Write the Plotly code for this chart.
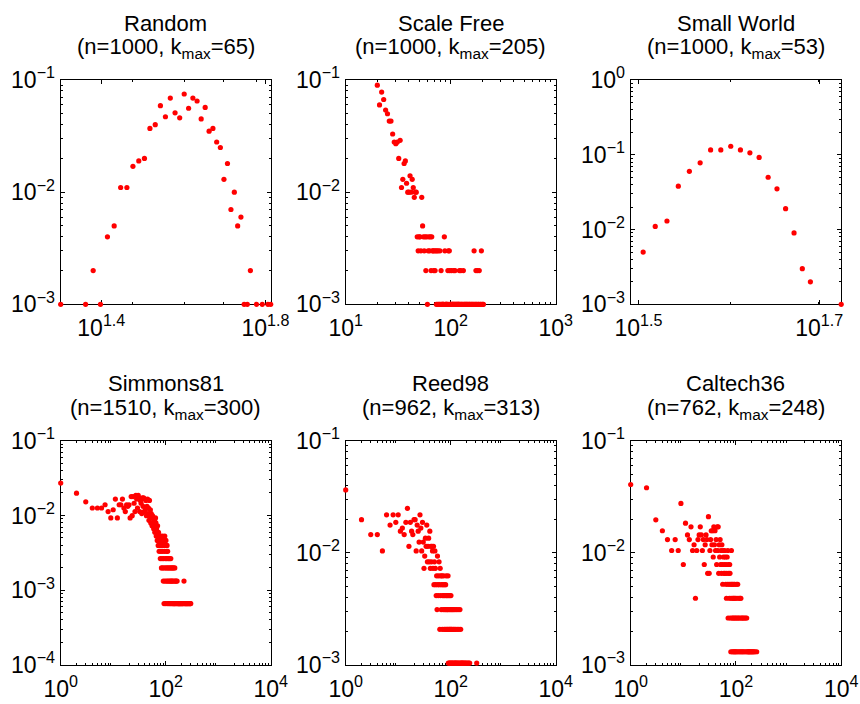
import math
import plotly.graph_objects as go

# ---------------- data ----------------
network_names = ["Random", "Scale Free", "Small World", "Simmons81", "Reed98", "Caltech36"]
network_sizes = [1000, 1000, 1000, 1510, 962, 762]
network_kmax = [65, 205, 53, 300, 313, 248]

random_degree = [20, 23, 24, 25, 26, 27, 28, 29, 30, 31, 32, 33, 34, 35, 36, 37, 38, 39, 40,
                 41, 42, 43, 44, 45, 46, 47, 48, 49, 50, 51, 52, 53, 54, 55, 56, 57, 58, 60,
                 62, 64, 65]
random_count = [1, 1, 2, 1, 4, 5, 11, 11, 17, 19, 20, 37, 40, 59, 47, 69, 51, 46, 75,
                56, 69, 65, 45, 57, 35, 37, 28, 25, 13, 18, 7, 10, 5, 6, 1, 1, 2, 1,
                1, 1, 1]

scalefree_degree = [20, 21, 22, 23, 24, 25, 26, 27, 28, 29, 30, 31, 32, 33, 34, 35, 36, 37, 38, 39,
                    40, 41, 42, 43, 44, 45, 46, 47, 48, 49, 50, 51, 52, 53, 54, 55, 56, 57, 58, 59,
                    60, 61, 62, 63, 64, 65, 66, 67, 68, 69, 70, 71, 72, 73, 74, 75, 76, 77, 78, 79,
                    80, 81, 82, 83, 84, 85, 86, 87, 88, 89, 90, 91, 92, 93, 94, 95, 96, 97, 98, 99,
                    100, 101, 102, 103, 104, 105, 106, 107, 108, 109, 110, 111, 112, 114, 115, 116,
                    118, 119, 120, 121, 122, 124, 125, 126, 128, 130, 132, 133, 135, 137, 139, 141,
                    143, 145, 148, 150, 152, 155, 158, 160, 163, 166, 167, 170, 172, 174, 176, 178,
                    180, 183, 185, 187, 190, 193, 196, 198, 202, 205]
scalefree_count = [90, 60, 78, 67, 54, 50, 43, 43, 33, 28, 27, 28, 20, 29, 11, 13, 18, 19, 12, 10,
                   10, 14, 10, 13, 11, 9, 10, 10, 4, 3, 4, 4, 3, 9, 5, 4, 3, 4, 2, 4,
                   1, 3, 4, 3, 4, 2, 4, 3, 3, 2, 3, 2, 3, 1, 3, 1, 3, 1, 1, 3,
                   1, 2, 1, 1, 1, 1, 1, 4, 3, 1, 1, 1, 1, 1, 2, 3, 1, 3, 2, 1,
                   1, 1, 2, 1, 1, 1, 1, 2, 1, 1, 2, 1, 1, 1, 1, 1,
                   1, 1, 1, 2, 1, 1, 2, 1, 1, 1, 2, 1, 1, 1, 1, 1,
                   1, 1, 1, 1, 1, 1, 1, 1, 1, 1, 3, 1, 1, 2, 1, 1,
                   2, 1, 1, 2, 1, 1, 3, 1, 1, 1]

smallworld_degree = [32, 33, 34, 35, 36, 37, 38, 39, 40, 41, 42, 43, 44, 45, 46, 47, 48, 49, 53]
smallworld_count = [5, 11, 13, 38, 60, 78, 116, 116, 130, 116, 106, 92, 50, 35, 19, 9, 3, 2, 1]

simmons_degree = list(range(1, 111)) + [112, 113, 115, 116, 118, 119, 121, 122, 124, 125, 127, 128,
                                        130, 132, 134, 135, 137, 139, 141, 143, 145, 147, 149, 150,
                                        153, 156, 158, 161, 165, 168, 172, 176, 180, 184, 188, 192,
                                        197, 202, 207, 212, 218, 223, 228, 234, 240, 246, 252, 258,
                                        265, 272, 280, 288, 294, 300]
simmons_count = [41, 30, 23, 19, 19, 19, 21, 17, 14, 18,
                 25, 14, 21, 21, 25, 19, 17, 21, 20, 21,
                 14, 27, 15, 27, 22, 17, 28, 25, 19, 28,
                 26, 17, 24, 22, 16, 26, 20, 26, 17, 25,
                 18, 24, 15, 20, 25, 16, 19, 13, 24, 15,
                 18, 12, 16, 14, 11, 15, 12, 14, 10, 12,
                 13, 9, 11, 14, 12, 8, 10, 9, 7, 11,
                 8, 6, 9, 7, 5, 8, 6, 7, 4, 8,
                 5, 6, 3, 7, 4, 5, 8, 3, 6, 2,
                 4, 7, 1, 5, 3, 8, 2, 6, 4, 1,
                 7, 3, 5, 2, 4, 6, 1, 3, 5, 2,
                 4, 1, 3, 2, 4, 1, 3, 2, 1, 4, 2, 3,
                 1, 2, 3, 1, 2, 1, 3, 1, 2, 1, 3, 1,
                 2, 1, 2, 1, 2, 1, 1, 1, 1, 1, 1, 1,
                 1, 1, 1, 1, 1, 2, 1, 1, 1, 1, 1, 1,
                 1, 1, 1, 1, 1, 1]

reed_degree = list(range(1, 105)) + [106, 107, 108, 110, 112, 113, 115, 117, 119, 120, 122, 124,
                                     126, 128, 130, 133, 135, 138, 140, 143, 146, 150, 152, 155,
                                     158, 162, 167, 172, 178, 185, 192, 200, 210, 220, 230, 313]
reed_count = [35, 19, 14, 14, 10, 21, 17, 21, 18, 21,
              15, 16, 14, 18, 24, 11, 18, 15, 14, 19,
              19, 10, 17, 15, 12, 21, 16, 10, 18, 12,
              7, 9, 13, 11, 17, 8, 11, 13, 8, 15,
              7, 11, 8, 11, 10, 7, 11, 5, 8, 10,
              7, 5, 4, 6, 3, 9, 5, 4, 6, 8,
              5, 2, 7, 4, 6, 3, 5, 6, 2, 4,
              5, 3, 6, 4, 2, 5, 3, 4, 2, 5,
              3, 6, 4, 2, 3, 4, 2, 3, 6, 1,
              4, 2, 3, 1, 2, 4, 1, 3, 2, 1,
              4, 2, 3, 1,
              2, 1, 3, 1, 2, 3, 1, 2, 1, 3, 1, 2,
              1, 3, 1, 2, 1, 3, 1, 2, 1, 3, 1, 2,
              1, 1, 1, 1, 1, 1, 1, 1, 1, 1, 1, 1]

caltech_degree = list(range(1, 99)) + [100, 101, 103, 104, 105, 107, 108, 110, 112, 114, 116, 118,
                                       120, 122, 124, 126, 128, 131, 134, 137, 140, 144, 148, 152,
                                       156, 160, 165, 170, 175, 180, 186, 192, 198, 205, 212, 220,
                                       230, 248]
caltech_count = [31, 29, 15, 12, 10, 8, 10, 8, 21, 6,
                 14, 11, 10, 13, 8, 9, 3, 8, 10, 11,
                 13, 11, 8, 10, 6, 9, 11, 10, 5, 16,
                 5, 8, 10, 12, 9, 12, 7, 13, 9, 12,
                 8, 10, 6, 13, 8, 13, 5, 9, 7, 10,
                 6, 8, 5, 9, 6, 4, 8, 7, 5, 6,
                 8, 5, 7, 4, 6, 3, 5, 7, 4, 8,
                 2, 6, 5, 4, 3, 6, 5, 2, 4, 1,
                 3, 8, 4, 2, 1, 4, 3, 2, 1, 3,
                 4, 2, 1, 3, 4, 1, 2, 3,
                 1, 2, 4, 1, 3, 2, 4, 1, 2, 3, 1, 2,
                 3, 1, 3, 2, 1, 2, 1, 2, 1, 2, 1, 2,
                 1, 2, 1, 1, 1, 1, 1, 1, 1, 1, 1, 1,
                 1, 1]

network_degrees = [random_degree, scalefree_degree, smallworld_degree,
                   simmons_degree, reed_degree, caltech_degree]
network_counts = [random_count, scalefree_count, smallworld_count,
                  simmons_count, reed_count, caltech_count]

# axis limits (degree / probability values) and tick exponents
x_limits = [(20, 65), (10, 1000), (31, 53), (1, 10000), (1, 10000), (1, 10000)]
y_limits = [(1e-3, 1e-1), (1e-3, 1e-1), (1e-3, 1), (1e-4, 1e-1), (1e-3, 1e-1), (1e-3, 1e-1)]
x_tick_exponents = [[1.4, 1.8], [1, 2, 3], [1.5, 1.7], [0, 2, 4], [0, 2, 4], [0, 2, 4]]
y_tick_exponents = [[-3, -2, -1], [-3, -2, -1], [-3, -2, -1, 0], [-4, -3, -2, -1],
                    [-3, -2, -1], [-3, -2, -1]]

# ---------------- layout helpers ----------------
W, H = 860, 704
col_px = [(60.7, 270.7), (345.7, 555.7), (630.7, 841.2)]
row_px = [(80.0, 304.3), (440.7, 665.0)]
FONT = "Liberation Sans, Arial, Helvetica, sans-serif"
EPS = 1e-7  # tiny pad so points lying exactly on the frame are not culled


def fx(px):
    return px / W


def fy(py):
    return 1 - py / H


def power_label(e):
    s = ("%g" % abs(e))
    sign = "\u2212" if e < 0 else ""
    return "10<sup>" + sign + s + "</sup>"


def minor_vals(lo, hi):
    vals = []
    for e in range(int(math.floor(math.log10(lo))) - 1, int(math.ceil(math.log10(hi))) + 1):
        for m in range(2, 10):
            v = m * 10 ** e
            if lo < v < hi:
                vals.append(v)
    return vals


fig = go.Figure()
layout = dict(
    width=W, height=H,
    margin=dict(l=0, r=0, t=0, b=0, autoexpand=False),
    paper_bgcolor="white", plot_bgcolor="white",
    showlegend=False,
    font=dict(family=FONT, color="black", size=22),
    annotations=[],
)

for i in range(6):
    r, c = divmod(i, 3)
    ax = "" if i == 0 else str(i + 1)
    xd = [fx(col_px[c][0]), fx(col_px[c][1])]
    yd = [fy(row_px[r][1]), fy(row_px[r][0])]
    n = network_sizes[i]
    probs = [cnt / n for cnt in network_counts[i]]
    fig.add_trace(go.Scatter(
        x=network_degrees[i], y=probs, mode="markers",
        marker=dict(color="#ff0000", size=5.2, line=dict(width=0)),
        cliponaxis=False, xaxis="x" + ax, yaxis="y" + ax, hoverinfo="x+y"))

    common = dict(type="log", showgrid=False, zeroline=False, showline=True,
                  linecolor="black", linewidth=1.2, mirror="allticks",
                  ticks="inside", ticklen=4, tickwidth=1, tickcolor="black",
                  layer="below traces", automargin=False,
                  tickfont=dict(family=FONT, size=23, color="black"))
    xlo, xhi = x_limits[i]
    ylo, yhi = y_limits[i]
    layout["xaxis" + ax] = dict(
        common, domain=xd, anchor="y" + ax,
        range=[math.log10(xlo) - EPS, math.log10(xhi) + EPS],
        tickmode="array", tickvals=[10 ** e for e in x_tick_exponents[i]],
        ticktext=[power_label(e) for e in x_tick_exponents[i]],
        ticklabelstandoff=3,
        minor=dict(ticks="inside", ticklen=2, tickcolor="black", tickmode="array",
                   tickvals=minor_vals(xlo, xhi)))
    layout["yaxis" + ax] = dict(
        common, domain=yd, anchor="x" + ax,
        range=[math.log10(ylo) - EPS, math.log10(yhi) + EPS],
        tickmode="array", tickvals=[10 ** e for e in y_tick_exponents[i]],
        ticktext=[power_label(e) for e in y_tick_exponents[i]],
        minor=dict(ticks="inside", ticklen=2, tickcolor="black", tickmode="array",
                   tickvals=minor_vals(ylo, yhi)))

    cx = fx((col_px[c][0] + col_px[c][1]) / 2)
    top = row_px[r][0]
    layout["annotations"].append(dict(
        text=network_names[i], x=cx, y=fy(top - 57), xref="paper", yref="paper",
        xanchor="center", yanchor="middle", showarrow=False,
        font=dict(family=FONT, size=22, color="black")))
    layout["annotations"].append(dict(
        text="(n=%d, k<sub>max</sub>=%d)" % (n, network_kmax[i]),
        x=cx, y=fy(top - 31.5), xref="paper", yref="paper",
        xanchor="center", yanchor="middle", showarrow=False,
        font=dict(family=FONT, size=22, color="black")))

fig.update_layout(**layout)
fig.write_html("out.html")
